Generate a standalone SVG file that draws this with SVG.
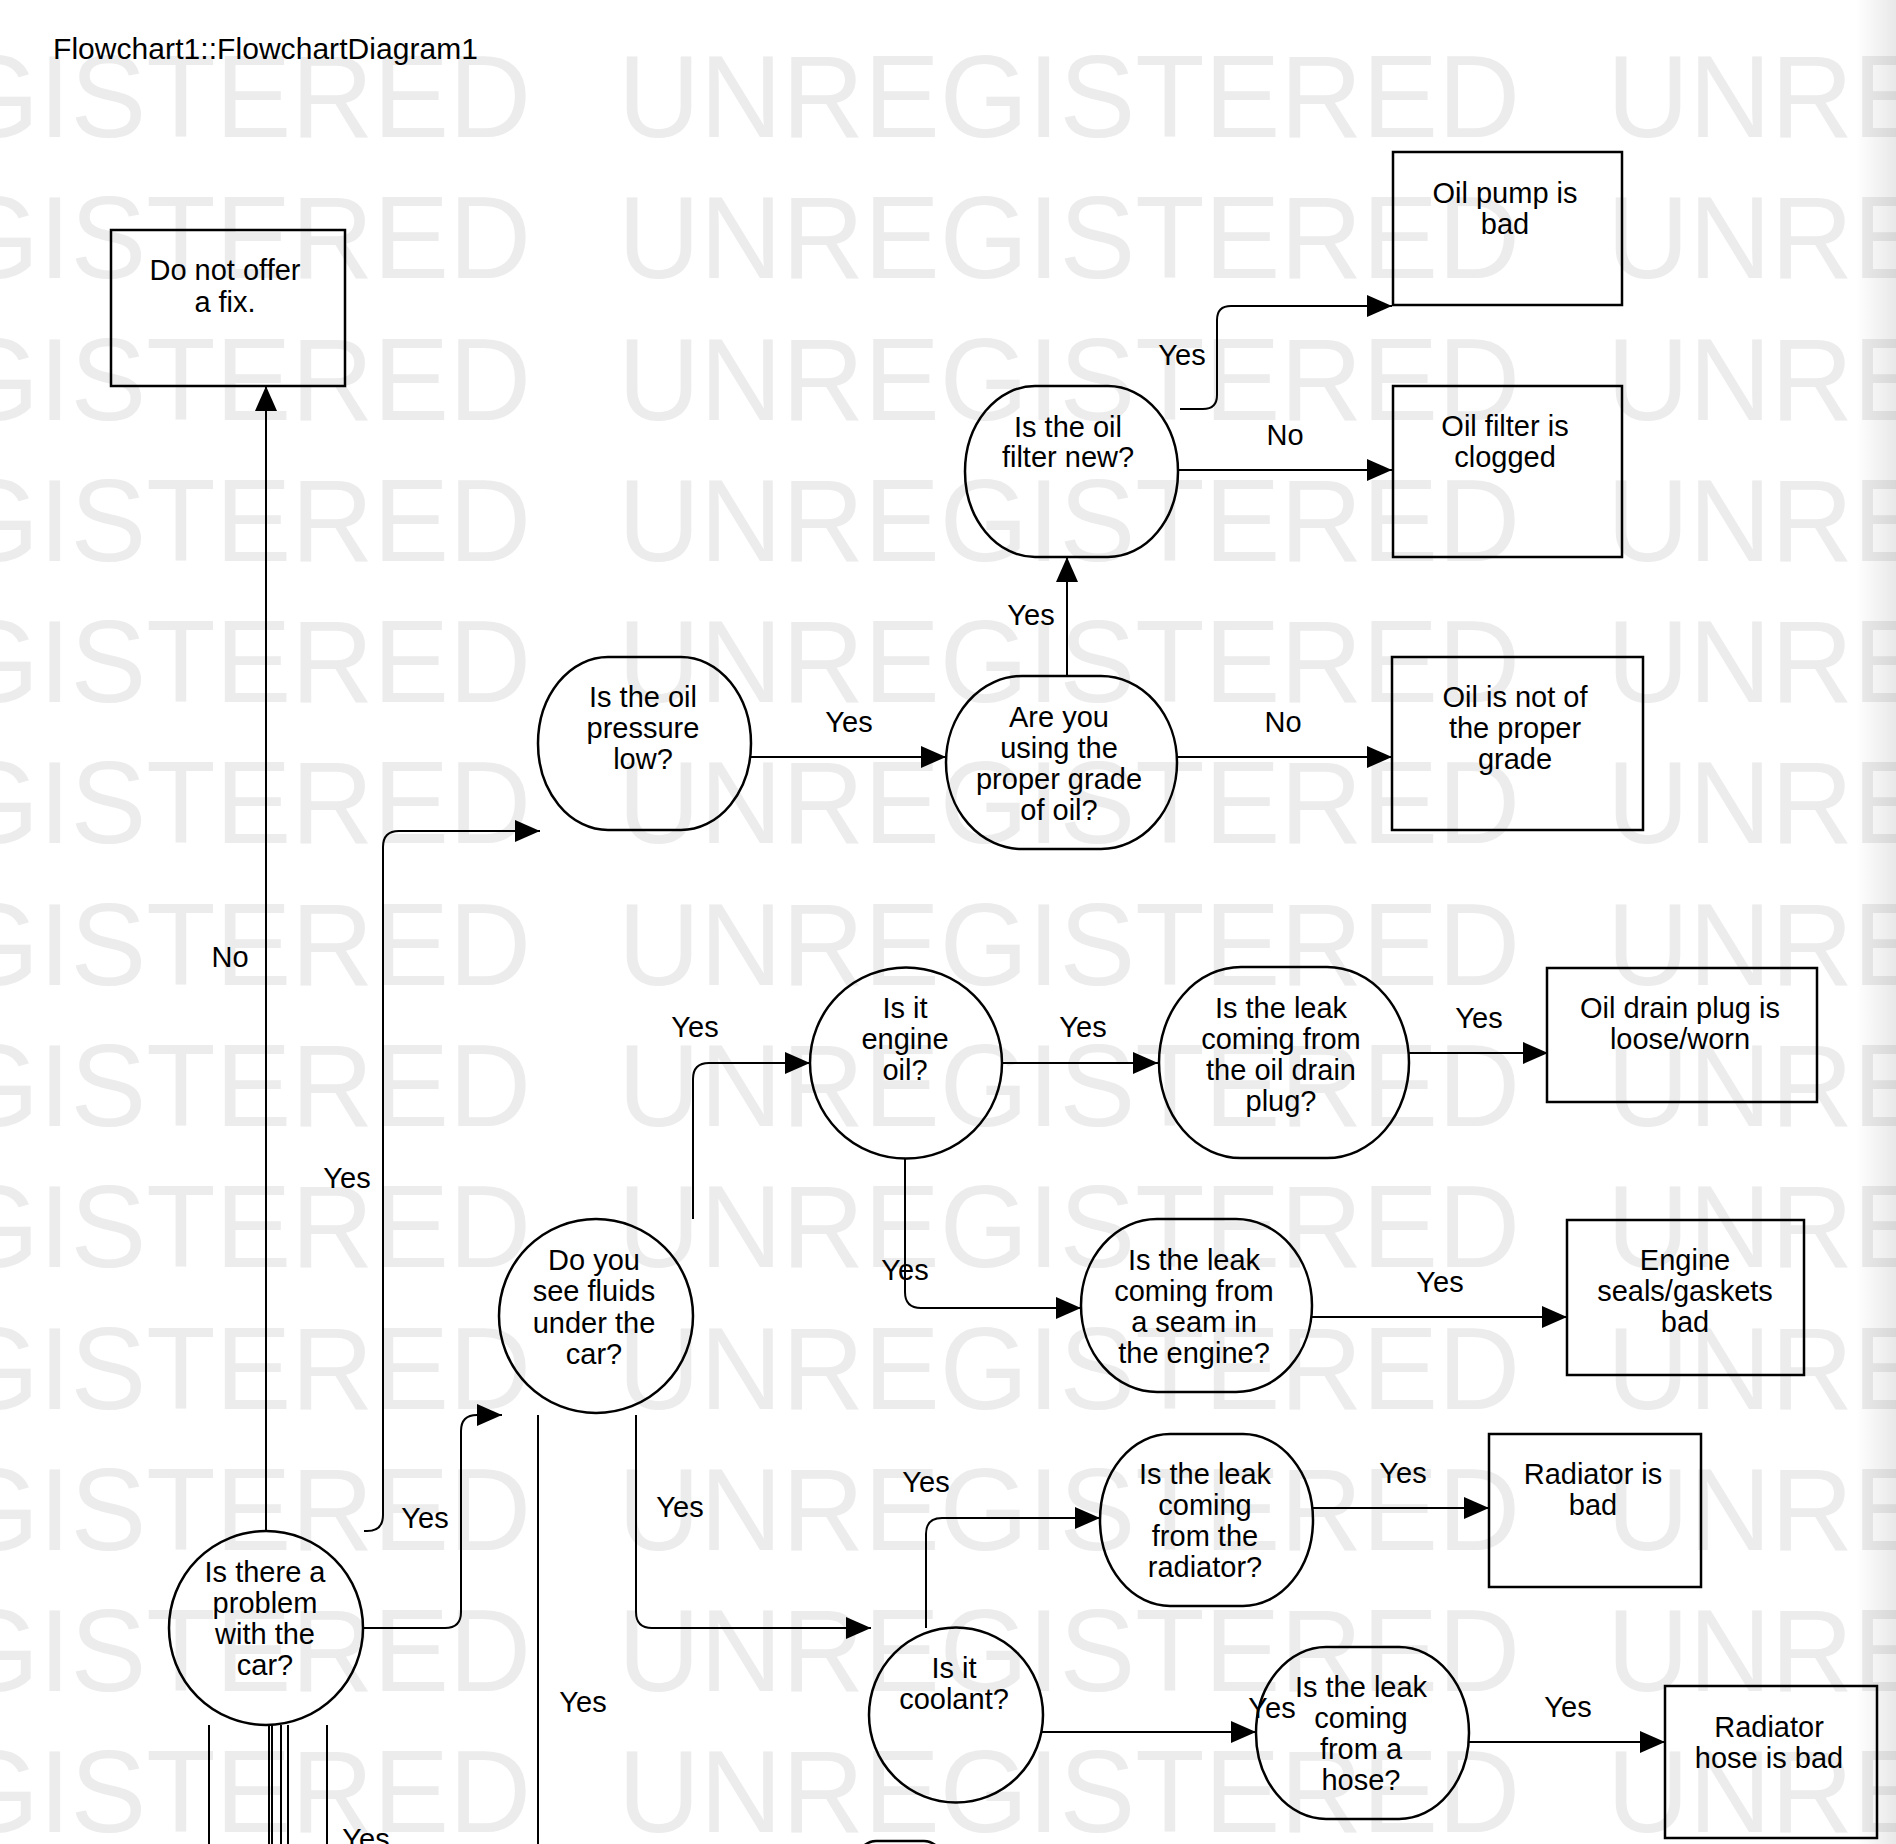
<svg xmlns="http://www.w3.org/2000/svg" width="1896" height="1844" viewBox="0 0 1896 1844">
<defs>
<style>
.wm{font-family:"Liberation Sans",Arial,sans-serif;font-size:117px;fill:#ececec}
.t{font-family:"Liberation Sans",Arial,sans-serif;font-size:29px;fill:#000;text-anchor:middle}
.lbl{font-family:"Liberation Sans",Arial,sans-serif;font-size:29px;fill:#000;text-anchor:middle}
.shape{fill:none;stroke:#000;stroke-width:2.5}
.edge{fill:none;stroke:#000;stroke-width:2}
</style>
<marker id="arr" markerUnits="userSpaceOnUse" markerWidth="26" markerHeight="24" refX="25" refY="11" orient="auto">
<path d="M0,0 L25,11 L0,22 z" fill="#000"/>
</marker>
<linearGradient id="edgeShade" x1="0" y1="0" x2="1" y2="0">
<stop offset="0" stop-color="#000" stop-opacity="0"/>
<stop offset="1" stop-color="#000" stop-opacity="0.09"/>
</linearGradient>
</defs>
<rect width="1896" height="1844" fill="#fff"/>
<g id="watermark">
<text class="wm" x="-371" y="137" textLength="902" lengthAdjust="spacingAndGlyphs">UNREGISTERED</text><text class="wm" x="618" y="137" textLength="902" lengthAdjust="spacingAndGlyphs">UNREGISTERED</text><text class="wm" x="1607" y="137" textLength="902" lengthAdjust="spacingAndGlyphs">UNREGISTERED</text>
<text class="wm" x="-371" y="278" textLength="902" lengthAdjust="spacingAndGlyphs">UNREGISTERED</text><text class="wm" x="618" y="278" textLength="902" lengthAdjust="spacingAndGlyphs">UNREGISTERED</text><text class="wm" x="1607" y="278" textLength="902" lengthAdjust="spacingAndGlyphs">UNREGISTERED</text>
<text class="wm" x="-371" y="420" textLength="902" lengthAdjust="spacingAndGlyphs">UNREGISTERED</text><text class="wm" x="618" y="420" textLength="902" lengthAdjust="spacingAndGlyphs">UNREGISTERED</text><text class="wm" x="1607" y="420" textLength="902" lengthAdjust="spacingAndGlyphs">UNREGISTERED</text>
<text class="wm" x="-371" y="561" textLength="902" lengthAdjust="spacingAndGlyphs">UNREGISTERED</text><text class="wm" x="618" y="561" textLength="902" lengthAdjust="spacingAndGlyphs">UNREGISTERED</text><text class="wm" x="1607" y="561" textLength="902" lengthAdjust="spacingAndGlyphs">UNREGISTERED</text>
<text class="wm" x="-371" y="702" textLength="902" lengthAdjust="spacingAndGlyphs">UNREGISTERED</text><text class="wm" x="618" y="702" textLength="902" lengthAdjust="spacingAndGlyphs">UNREGISTERED</text><text class="wm" x="1607" y="702" textLength="902" lengthAdjust="spacingAndGlyphs">UNREGISTERED</text>
<text class="wm" x="-371" y="843" textLength="902" lengthAdjust="spacingAndGlyphs">UNREGISTERED</text><text class="wm" x="618" y="843" textLength="902" lengthAdjust="spacingAndGlyphs">UNREGISTERED</text><text class="wm" x="1607" y="843" textLength="902" lengthAdjust="spacingAndGlyphs">UNREGISTERED</text>
<text class="wm" x="-371" y="985" textLength="902" lengthAdjust="spacingAndGlyphs">UNREGISTERED</text><text class="wm" x="618" y="985" textLength="902" lengthAdjust="spacingAndGlyphs">UNREGISTERED</text><text class="wm" x="1607" y="985" textLength="902" lengthAdjust="spacingAndGlyphs">UNREGISTERED</text>
<text class="wm" x="-371" y="1126" textLength="902" lengthAdjust="spacingAndGlyphs">UNREGISTERED</text><text class="wm" x="618" y="1126" textLength="902" lengthAdjust="spacingAndGlyphs">UNREGISTERED</text><text class="wm" x="1607" y="1126" textLength="902" lengthAdjust="spacingAndGlyphs">UNREGISTERED</text>
<text class="wm" x="-371" y="1267" textLength="902" lengthAdjust="spacingAndGlyphs">UNREGISTERED</text><text class="wm" x="618" y="1267" textLength="902" lengthAdjust="spacingAndGlyphs">UNREGISTERED</text><text class="wm" x="1607" y="1267" textLength="902" lengthAdjust="spacingAndGlyphs">UNREGISTERED</text>
<text class="wm" x="-371" y="1409" textLength="902" lengthAdjust="spacingAndGlyphs">UNREGISTERED</text><text class="wm" x="618" y="1409" textLength="902" lengthAdjust="spacingAndGlyphs">UNREGISTERED</text><text class="wm" x="1607" y="1409" textLength="902" lengthAdjust="spacingAndGlyphs">UNREGISTERED</text>
<text class="wm" x="-371" y="1550" textLength="902" lengthAdjust="spacingAndGlyphs">UNREGISTERED</text><text class="wm" x="618" y="1550" textLength="902" lengthAdjust="spacingAndGlyphs">UNREGISTERED</text><text class="wm" x="1607" y="1550" textLength="902" lengthAdjust="spacingAndGlyphs">UNREGISTERED</text>
<text class="wm" x="-371" y="1691" textLength="902" lengthAdjust="spacingAndGlyphs">UNREGISTERED</text><text class="wm" x="618" y="1691" textLength="902" lengthAdjust="spacingAndGlyphs">UNREGISTERED</text><text class="wm" x="1607" y="1691" textLength="902" lengthAdjust="spacingAndGlyphs">UNREGISTERED</text>
<text class="wm" x="-371" y="1832" textLength="902" lengthAdjust="spacingAndGlyphs">UNREGISTERED</text><text class="wm" x="618" y="1832" textLength="902" lengthAdjust="spacingAndGlyphs">UNREGISTERED</text><text class="wm" x="1607" y="1832" textLength="902" lengthAdjust="spacingAndGlyphs">UNREGISTERED</text>
</g>
<rect x="1856" y="0" width="40" height="1844" fill="url(#edgeShade)"/>
<text x="53" y="59" font-family="'Liberation Sans',Arial,sans-serif" font-size="30" fill="#000" textLength="425">Flowchart1::FlowchartDiagram1</text>

<g id="connectors">
<path class="edge" d="M266,1531 V386" marker-end="url(#arr)"/>
<text class="lbl" x="230" y="967">No</text>
<path class="edge" d="M364,1531 H367 Q383,1531 383,1515 V847 Q383,831 399,831 H540" marker-end="url(#arr)"/>
<text class="lbl" x="347" y="1188">Yes</text>
<path class="edge" d="M363,1628 H445 Q461,1628 461,1612 V1431 Q461,1415 477,1415 H502" marker-end="url(#arr)"/>
<text class="lbl" x="425" y="1528">Yes</text>
<path class="edge" d="M751,757 H946" marker-end="url(#arr)"/>
<text class="lbl" x="849" y="732">Yes</text>
<path class="edge" d="M1177,757 H1392" marker-end="url(#arr)"/>
<text class="lbl" x="1283" y="732">No</text>
<path class="edge" d="M1067,676 V557" marker-end="url(#arr)"/>
<text class="lbl" x="1031" y="625">Yes</text>
<path class="edge" d="M1178,470 H1392" marker-end="url(#arr)"/>
<text class="lbl" x="1285" y="445">No</text>
<path class="edge" d="M1180,409 H1203 Q1217,409 1217,395 V320 Q1217,306 1231,306 H1392" marker-end="url(#arr)"/>
<text class="lbl" x="1182" y="365">Yes</text>
<path class="edge" d="M693,1219 V1079 Q693,1063 709,1063 H810" marker-end="url(#arr)"/>
<text class="lbl" x="695" y="1037">Yes</text>
<path class="edge" d="M1002,1063 H1158" marker-end="url(#arr)"/>
<text class="lbl" x="1083" y="1037">Yes</text>
<path class="edge" d="M1409,1053 H1548" marker-end="url(#arr)"/>
<text class="lbl" x="1479" y="1028">Yes</text>
<path class="edge" d="M905,1158 V1292 Q905,1308 921,1308 H1081" marker-end="url(#arr)"/>
<text class="lbl" x="905" y="1280">Yes</text>
<path class="edge" d="M1312,1317 H1567" marker-end="url(#arr)"/>
<text class="lbl" x="1440" y="1292">Yes</text>
<path class="edge" d="M636,1415 V1612 Q636,1628 652,1628 H871" marker-end="url(#arr)"/>
<text class="lbl" x="680" y="1517">Yes</text>
<path class="edge" d="M538,1415 V1844"/>
<text class="lbl" x="583" y="1712">Yes</text>
<path class="edge" d="M926,1628 V1534 Q926,1518 942,1518 H1100" marker-end="url(#arr)"/>
<text class="lbl" x="926" y="1492">Yes</text>
<path class="edge" d="M1313,1508 H1489" marker-end="url(#arr)"/>
<text class="lbl" x="1403" y="1483">Yes</text>
<path class="edge" d="M1042,1732 H1256" marker-end="url(#arr)"/>
<text class="lbl" x="1272" y="1718">Yes</text>
<path class="edge" d="M1468,1742 H1665" marker-end="url(#arr)"/>
<text class="lbl" x="1568" y="1717">Yes</text>
<path class="edge" d="M209,1725 V1844 M269,1725 V1844 M272,1725 V1844 M281,1725 V1844 M288,1725 V1844 M327,1725 V1844"/>
<text class="lbl" x="366" y="1849">Yes</text>
</g>

<g id="n-no-fix"><rect class="shape" x="111" y="230" width="234" height="156"/><text class="t" x="225" y="280">Do not offer</text><text class="t" x="225" y="312">a fix.</text></g>
<g id="n-pump"><rect class="shape" x="1393" y="152" width="229" height="153"/><text class="t" x="1505" y="203">Oil pump is</text><text class="t" x="1505" y="234">bad</text></g>
<g id="n-filter-clogged"><rect class="shape" x="1393" y="386" width="229" height="171"/><text class="t" x="1505" y="436">Oil filter is</text><text class="t" x="1505" y="467">clogged</text></g>
<g id="n-grade-bad"><rect class="shape" x="1392" y="657" width="251" height="173"/><text class="t" x="1515" y="707">Oil is not of</text><text class="t" x="1515" y="738">the proper</text><text class="t" x="1515" y="769">grade</text></g>
<g id="n-filter-new"><rect class="shape" x="965" y="386" width="213" height="171" rx="70" ry="85.5"/><text class="t" x="1068" y="437">Is the oil</text><text class="t" x="1068" y="467">filter new?</text></g>
<g id="n-pressure"><rect class="shape" x="538" y="657" width="213" height="173" rx="70" ry="86.5"/><text class="t" x="643" y="707">Is the oil</text><text class="t" x="643" y="738">pressure</text><text class="t" x="643" y="769">low?</text></g>
<g id="n-grade"><rect class="shape" x="946" y="676" width="231" height="173" rx="76" ry="86.5"/><text class="t" x="1059" y="727">Are you</text><text class="t" x="1059" y="758">using the</text><text class="t" x="1059" y="789">proper grade</text><text class="t" x="1059" y="820">of oil?</text></g>
<g id="n-engine-oil"><ellipse class="shape" cx="906" cy="1063" rx="96" ry="95.5"/><text class="t" x="905" y="1018">Is it</text><text class="t" x="905" y="1049">engine</text><text class="t" x="905" y="1080">oil?</text></g>
<g id="n-drain-q"><rect class="shape" x="1159" y="967" width="250" height="191" rx="82" ry="95.5"/><text class="t" x="1281" y="1018">Is the leak</text><text class="t" x="1281" y="1049">coming from</text><text class="t" x="1281" y="1080">the oil drain</text><text class="t" x="1281" y="1111">plug?</text></g>
<g id="n-drain-bad"><rect class="shape" x="1547" y="968" width="270" height="134"/><text class="t" x="1680" y="1018">Oil drain plug is</text><text class="t" x="1680" y="1049">loose/worn</text></g>
<g id="n-seam-q"><rect class="shape" x="1081" y="1219" width="231" height="173" rx="76" ry="86.5"/><text class="t" x="1194" y="1270">Is the leak</text><text class="t" x="1194" y="1301">coming from</text><text class="t" x="1194" y="1332">a seam in</text><text class="t" x="1194" y="1363">the engine?</text></g>
<g id="n-seals"><rect class="shape" x="1567" y="1220" width="237" height="155"/><text class="t" x="1685" y="1270">Engine</text><text class="t" x="1685" y="1301">seals/gaskets</text><text class="t" x="1685" y="1332">bad</text></g>
<g id="n-fluids"><ellipse class="shape" cx="596" cy="1316" rx="97" ry="97"/><text class="t" x="594" y="1270">Do you</text><text class="t" x="594" y="1301">see fluids</text><text class="t" x="594" y="1333">under the</text><text class="t" x="594" y="1364">car?</text></g>
<g id="n-problem"><ellipse class="shape" cx="266" cy="1628" rx="97" ry="97"/><text class="t" x="265" y="1582">Is there a</text><text class="t" x="265" y="1613">problem</text><text class="t" x="265" y="1644">with the</text><text class="t" x="265" y="1675">car?</text></g>
<g id="n-radiator-q"><rect class="shape" x="1100" y="1434" width="213" height="172" rx="70" ry="86"/><text class="t" x="1205" y="1484">Is the leak</text><text class="t" x="1205" y="1515">coming</text><text class="t" x="1205" y="1546">from the</text><text class="t" x="1205" y="1577">radiator?</text></g>
<g id="n-radiator-bad"><rect class="shape" x="1489" y="1434" width="212" height="153"/><text class="t" x="1593" y="1484">Radiator is</text><text class="t" x="1593" y="1515">bad</text></g>
<g id="n-coolant"><ellipse class="shape" cx="956" cy="1715" rx="87" ry="87.5"/><text class="t" x="954" y="1678">Is it</text><text class="t" x="954" y="1709">coolant?</text></g>
<g id="n-hose-q"><rect class="shape" x="1256" y="1647" width="213" height="172" rx="70" ry="86"/><text class="t" x="1361" y="1697">Is the leak</text><text class="t" x="1361" y="1728">coming</text><text class="t" x="1361" y="1759">from a</text><text class="t" x="1361" y="1790">hose?</text></g>
<g id="n-hose-bad"><rect class="shape" x="1665" y="1686" width="212" height="152"/><text class="t" x="1769" y="1737">Radiator</text><text class="t" x="1769" y="1768">hose is bad</text></g>
<g id="n-bottom"><rect class="shape" x="840" y="1841" width="120" height="170" rx="36" ry="85"/></g>
</svg>
